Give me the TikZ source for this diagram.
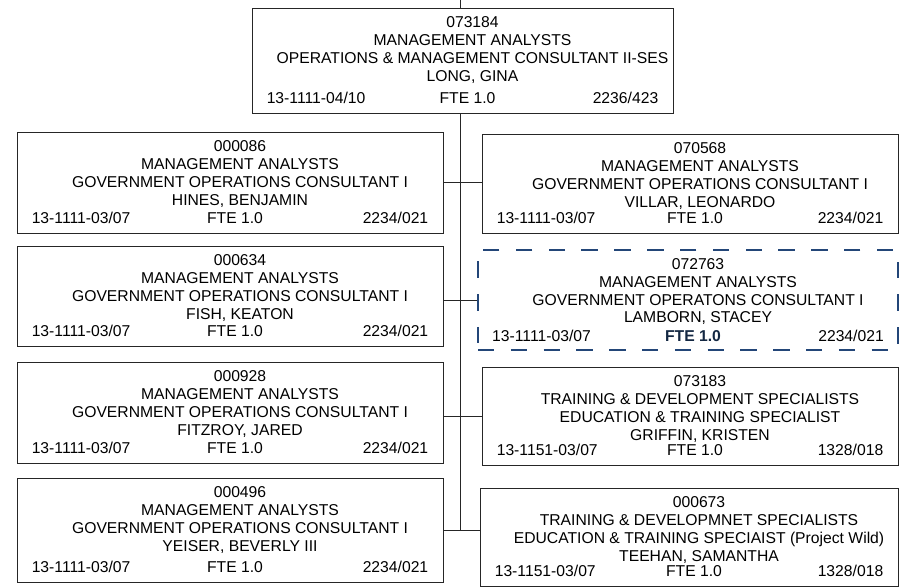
\documentclass[tikz,border=0pt]{standalone}
\usepackage{fontspec}
\setmainfont{Liberation Sans}
\usepackage{xcolor}
\usepackage{tikz}
\usetikzlibrary{positioning,fit,calc}
\definecolor{vacantblue}{RGB}{35,70,120}

% one position: [box style]{name}{corner}{corner}{lines}{class code}{budget}
\newcommand{\orgpos}[7][]{%
  \node[posbox, fit={#3 #4}, #1] (#2) {};
  \node[postext, anchor=north] (#2-txt) at ([shift={(10,9)}]#2.north) {#5};
  \node[postext, anchor=base west] (#2-soc) at ([shift={(15,-10)}]#2.south west) {#6};
  \node[postext, fte, anchor=base] (#2-fte) at ([shift={(5,-10)}]#2.south) {FTE 1.0};
  \node[postext, anchor=base east] (#2-pay) at ([shift={(-15,-10)}]#2.south east) {#7};
}

\begin{document}
\begin{tikzpicture}[x=0.03cm, y=-0.03cm,
    font=\fontsize{13.4pt}{15.3pt}\selectfont,
    posbox/.style={draw=black!85, line width=0.8pt, inner sep=0pt},
    postext/.style={inner sep=0pt, align=center, text=black},
    fte/.style={},
    vacant/.style={draw=vacantblue, line width=1.7pt, dash pattern=on 14pt off 14pt},
    link/.style={draw=black!85, line width=0.8pt}]
    \useasboundingbox (0,0) rectangle (900,587);
    % head of the unit
    \orgpos{long}{(252,8)}{(673,113)}{073184\\MANAGEMENT ANALYSTS\\OPERATIONS \& MANAGEMENT CONSULTANT II-SES\\LONG, GINA}{13-1111-04/10}{2236/423}
    % left column
    \orgpos{hines}{(17,132)}{(443,233)}{000086\\MANAGEMENT ANALYSTS\\GOVERNMENT OPERATIONS CONSULTANT I\\HINES, BENJAMIN}{13-1111-03/07}{2234/021}
    \orgpos{fish}{(17,246)}{(443,346)}{000634\\MANAGEMENT ANALYSTS\\GOVERNMENT OPERATIONS CONSULTANT I\\FISH, KEATON}{13-1111-03/07}{2234/021}
    \orgpos{fitzroy}{(17,362)}{(443,463)}{000928\\MANAGEMENT ANALYSTS\\GOVERNMENT OPERATIONS CONSULTANT I\\FITZROY, JARED}{13-1111-03/07}{2234/021}
    \orgpos{yeiser}{(17,478)}{(443,582)}{000496\\MANAGEMENT ANALYSTS\\GOVERNMENT OPERATIONS CONSULTANT I\\YEISER, BEVERLY III}{13-1111-03/07}{2234/021}
    % right column
    \orgpos{villar}{(482,134)}{(898,233)}{070568\\MANAGEMENT ANALYSTS\\GOVERNMENT OPERATIONS CONSULTANT I\\VILLAR, LEONARDO}{13-1111-03/07}{2234/021}
    \begin{scope}[fte/.style={font=\fontsize{13.4pt}{15.3pt}\selectfont\bfseries, text=vacantblue!55!black}]
      \orgpos[vacant]{lamborn}{(478,250)}{(898,350)}{072763\\MANAGEMENT ANALYSTS\\GOVERNMENT OPERATONS CONSULTANT I\\LAMBORN, STACEY}{13-1111-03/07}{2234/021}
    \end{scope}
    \orgpos{griffin}{(482,367)}{(898,465)}{073183\\TRAINING \& DEVELOPMENT SPECIALISTS\\EDUCATION \& TRAINING SPECIALIST\\GRIFFIN, KRISTEN}{13-1151-03/07}{1328/018}
    \orgpos{teehan}{(480,488)}{(898,586)}{000673\\TRAINING \& DEVELOPMNET SPECIALISTS\\EDUCATION \& TRAINING SPECIAIST (Project Wild)\\TEEHAN, SAMANTHA}{13-1151-03/07}{1328/018}
    % reporting lines
    \coordinate (feed) at (460,0);
    \draw[link] (feed) -- (feed |- long.north);
    \draw[link] (feed |- long.south) -- (feed |- yeiser.east);
    \draw[link] (hines.east) -- (hines.east -| villar.west);
    \draw[link] (fish.east |- lamborn.west) -- (lamborn.west);
    \draw[link] (fitzroy.east |- griffin.west) -- (griffin.west);
    \draw[link] (yeiser.east) -- (yeiser.east -| teehan.west);
\end{tikzpicture}
\end{document}
